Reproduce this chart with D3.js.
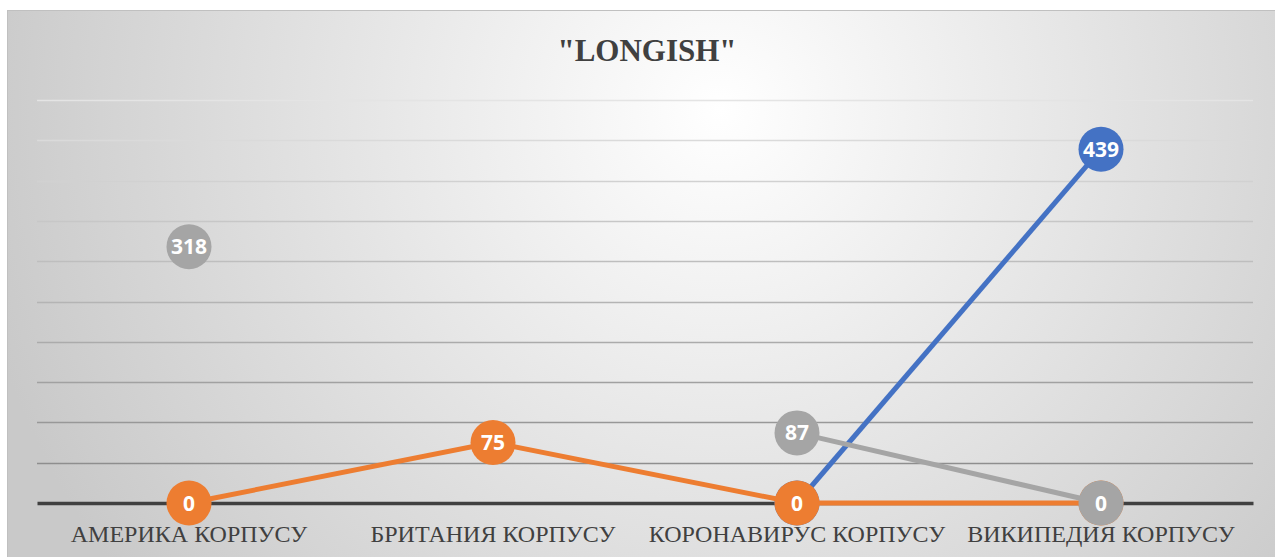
<!DOCTYPE html>
<html>
<head>
<meta charset="utf-8">
<script src="https://cdn.jsdelivr.net/npm/d3@7"></script>
<style>
  body { margin: 0; background: #fff; }
  svg { display: block; }
</style>
</head>
<body>
<div id="chart"></div>
<script>
var categories = ["АМЕРИКА КОРПУСУ", "БРИТАНИЯ КОРПУСУ", "КОРОНАВИРУС КОРПУСУ", "ВИКИПЕДИЯ КОРПУСУ"];
var blueValues = [null, null, 0, 439];
var orangeValues = [0, 75, 0, 0];
var grayValues = [318, null, 87, 0];
var yTicks = [0, 50, 100, 150, 200, 250, 300, 350, 400, 450, 500];
var title = "\"LONGISH\"";

var W = 1275, H = 557,
    margin = { top: 100, right: 22, bottom: 54, left: 37 },
    width = W - margin.left - margin.right,
    height = H - margin.top - margin.bottom;

var series = [
    { name: "blue", values: blueValues, color: "#4472C4" },
    { name: "orange", values: orangeValues, color: "#ED7D31" },
    { name: "gray", values: grayValues, color: "#A5A5A5" }
];

var svg = d3.select("#chart").append("svg")
    .attr("width", W)
    .attr("height", H);

// chart background - soft radial gradient like the office style
var defs = svg.append("defs");
var grad = defs.append("radialGradient")
    .attr("id", "bg")
    .attr("gradientUnits", "userSpaceOnUse")
    .attr("cx", 720).attr("cy", 110).attr("r", 760);
grad.append("stop").attr("offset", "0%").attr("stop-color", "#ffffff");
grad.append("stop").attr("offset", "100%").attr("stop-color", "#c9c9c9");

svg.append("rect")
    .attr("x", 7.5).attr("y", 10.5)
    .attr("width", W - 7).attr("height", H - 10)
    .attr("fill", "url(#bg)")
    .attr("stroke", "#c0c0c0")
    .attr("stroke-width", 1);

svg.append("text")
    .attr("x", 647)
    .attr("y", 61)
    .attr("text-anchor", "middle")
    .style("font-family", "'Liberation Serif', 'Times New Roman', serif")
    .style("font-weight", "bold")
    .style("font-size", "31px")
    .style("fill", "#404040")
    .text(title);

var g = svg.append("g")
    .attr("transform", "translate(" + margin.left + "," + margin.top + ")");

var x = d3.scaleBand().domain(categories).range([0, width]);
var y = d3.scaleLinear().domain([0, 500]).range([height, 0]);

var gridColor = d3.scaleLinear().domain([500, 50]).range(["#e4e4e4", "#8e8e8e"]);

g.selectAll(".grid")
    .data(yTicks.filter(function (d) { return d > 0; }))
    .enter().append("line")
    .attr("class", "grid")
    .attr("x1", 0).attr("x2", width)
    .attr("y1", function (d) { return Math.round(y(d)) + 0.5; })
    .attr("y2", function (d) { return Math.round(y(d)) + 0.5; })
    .attr("stroke", function (d) { return gridColor(d); })
    .attr("stroke-width", 1.5);

// category axis
var xAxis = g.append("g")
    .attr("transform", "translate(0," + y(0) + ")")
    .call(d3.axisBottom(x).tickSize(0).tickPadding(22));
xAxis.select(".domain")
    .attr("stroke", "#404040")
    .attr("stroke-width", 3.5);
xAxis.selectAll("text")
    .style("font-family", "'Liberation Serif', 'Times New Roman', serif")
    .style("font-size", "24px")
    .style("fill", "#404040");

var cx = function (i) { return x(categories[i]) + x.bandwidth() / 2; };

var line = d3.line()
    .defined(function (d) { return d != null; })
    .x(function (d, i) { return cx(i); })
    .y(function (d) { return y(d); });

series.forEach(function (s) {
    var sg = g.append("g").attr("class", "series-" + s.name);
    sg.append("path")
        .datum(s.values)
        .attr("fill", "none")
        .attr("stroke", s.color)
        .attr("stroke-width", 5)
        .attr("d", line);

    var pts = s.values.map(function (v, i) { return { v: v, i: i }; })
        .filter(function (d) { return d.v != null; });

    var m = sg.selectAll(".pt")
        .data(pts)
        .enter().append("g")
        .attr("transform", function (d) { return "translate(" + cx(d.i) + "," + y(d.v) + ")"; });
    m.append("circle")
        .attr("r", 22.5)
        .attr("fill", s.color);
    m.append("text")
        .attr("text-anchor", "middle")
        .attr("dy", "0.36em")
        .style("font-family", "'Open Sans', 'Noto Sans', sans-serif")
        .style("font-weight", "bold")
        .style("font-size", "21px")
        .style("fill", "#ffffff")
        .text(function (d) { return d.v; });
});
</script>
</body>
</html>
